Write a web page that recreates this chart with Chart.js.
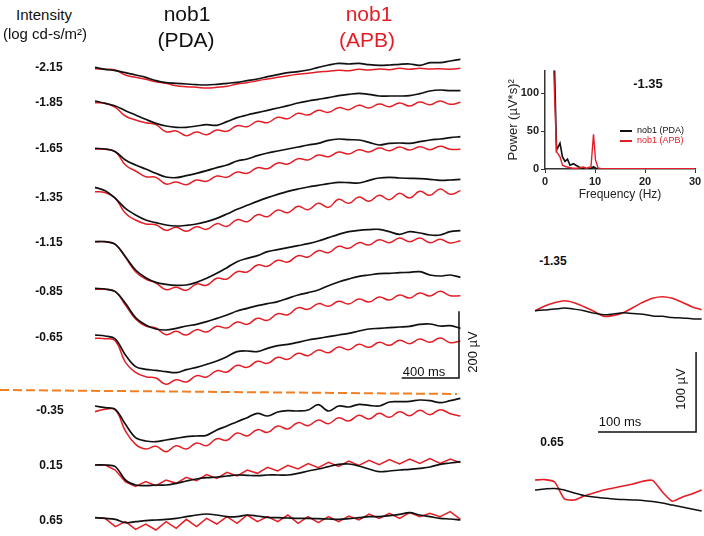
<!DOCTYPE html>
<html>
<head>
<meta charset="utf-8">
<script src="https://cdn.jsdelivr.net/npm/chart.js@4.4.0/dist/chart.umd.min.js"></script>
<style>
  html, body { margin: 0; padding: 0; background: #fff; }
  #page { position: relative; width: 704px; height: 536px; overflow: hidden; font-family: "Liberation Sans", Arial, sans-serif; color: #111; }
  .box { position: absolute; }
  .txt { position: absolute; transform: translate(-50%, -50%); white-space: nowrap; line-height: 1; }
  .lvl { font-weight: bold; font-size: 12px; }
  .head { font-size: 15px; }
  .group { font-size: 21px; }
  .red { color: #e41e26; }
  .bar { font-size: 13px; }
  .rot { transform: translate(-50%, -50%) rotate(-90deg); }
  .leg { position: absolute; font-size: 9px; white-space: nowrap; line-height: 1; }
  .leg span { display: inline-block; width: 12px; height: 2px; vertical-align: middle; margin-right: 5px; }
</style>
</head>
<body>
<div id="page">
  <div class="box" id="mainBox" style="left:0;top:40px;width:480px;height:496px;"><canvas id="traces"></canvas></div>
  <div class="box" id="fftBox" style="left:490px;top:62px;width:214px;height:140px;"><canvas id="fft"></canvas></div>
  <div class="box" id="zoomBox" style="left:530px;top:280px;width:174px;height:256px;"><canvas id="zoomTraces"></canvas></div>

  <div class="txt head" style="left:44px;top:14px;">Intensity</div>
  <div class="txt head" style="left:45px;top:33px;">(log cd-s/m²)</div>
  <div class="txt group" style="left:187px;top:13px;">nob1</div>
  <div class="txt group" style="left:186px;top:39px;">(PDA)</div>
  <div class="txt group red" style="left:369px;top:13px;">nob1</div>
  <div class="txt group red" style="left:367px;top:39px;">(APB)</div>

  <div class="txt lvl" style="left:49px;top:67px;">-2.15</div>
  <div class="txt lvl" style="left:49px;top:102px;">-1.85</div>
  <div class="txt lvl" style="left:49px;top:148px;">-1.65</div>
  <div class="txt lvl" style="left:49px;top:197px;">-1.35</div>
  <div class="txt lvl" style="left:49px;top:242px;">-1.15</div>
  <div class="txt lvl" style="left:49px;top:291px;">-0.85</div>
  <div class="txt lvl" style="left:49px;top:337px;">-0.65</div>
  <div class="txt lvl" style="left:50px;top:410px;">-0.35</div>
  <div class="txt lvl" style="left:51px;top:465px;">0.15</div>
  <div class="txt lvl" style="left:51px;top:520px;">0.65</div>

  <div class="txt bar" style="left:424px;top:371px;">400 ms</div>
  <div class="txt bar rot" style="left:472px;top:352px;">200 µV</div>

  <div class="txt lvl" style="left:648px;top:83px;font-size:13px;">-1.35</div>
  <div class="leg" style="left:620px;top:126px;"><span style="background:#111;"></span>nob1 (PDA)</div>
  <div class="leg red" style="left:620px;top:136px;"><span style="background:#e41e26;"></span>nob1 (APB)</div>

  <div class="txt lvl" style="left:553px;top:261px;">-1.35</div>
  <div class="txt lvl" style="left:552px;top:442px;">0.65</div>
  <div class="txt bar rot" style="left:680px;top:389px;">100 µV</div>
  <div class="txt bar" style="left:620px;top:421px;">100 ms</div>
</div>

<script>
// time base of the long traces (ms)
const times = [0,70,140,210,280,350,420,490,560,630,700,770,840,910,980,1050,1120,1190,1260,1330,1400,1470,1540,1610,1680,1750,1820,1890,1960,2030,2100,2170,2240,2310,2380,2450,2520];

// intensities (log cd-s/m2)
const intensities = ['-2.15','-1.85','-1.65','-1.35','-1.15','-0.85','-0.65','-0.35','0.15','0.65'];

// responses in µV, relative to the PDA trace start of each row
const pda_m215 = [0,-6,-10,-16,-23,-30,-40,-46,-48,-50,-52,-53,-51,-48,-45,-40,-35,-28,-22,-16,-13,-8,0,7,12,10,12,8,6,7,9,10,6,14,14,19,24];
const apb_m215 = [-4,-6,-8,-23,-30,-36,-43,-48,-55,-58,-60,-62,-60,-57,-50,-46,-40,-35,-30,-25,-21,-18,-14,-12,-9,-10,-6,-8,-5,-7,-3,-6,-3,-5,-4,-6,-3];

const pda_m185 = [0,-7,-15,-29,-42,-55,-67,-75,-79,-79,-75,-71,-73,-62,-50,-42,-35,-28,-21,-14,-6,0,5,10,16,20,23,20,15,15,15,16,22,30,33,31,31];
const apb_m185 = [-5,-7,-19,-45,-57,-65,-71,-92,-90,-104,-93,-101,-87,-91,-74,-77,-61,-65,-49,-53,-37,-42,-28,-34,-20,-26,-13,-21,-9,-17,-6,-15,-3,-11,0,-10,-4];

const pda_m165 = [0,-2,-10,-35,-50,-62,-75,-86,-88,-82,-75,-67,-58,-50,-38,-32,-22,-14,-8,-2,4,10,15,24,28,26,25,18,10,15,16,15,20,25,28,32,35];
const apb_m165 = [-2,-3,-10,-50,-68,-85,-87,-107,-101,-109,-95,-99,-83,-87,-71,-75,-58,-61,-44,-47,-31,-35,-20,-25,-11,-17,-4,-11,1,-7,4,-5,5,-4,6,-3,-3];

const pda_m135 = [0,-10,-33,-63,-83,-98,-106,-113,-116,-114,-110,-103,-93,-80,-66,-54,-42,-31,-21,-12,-5,1,6,11,15,14,13,21,28,30,28,27,26,24,21,22,24];
const apb_m135 = [-13,-16,-33,-78,-98,-110,-112,-129,-120,-132,-118,-126,-109,-117,-97,-103,-82,-88,-68,-76,-57,-67,-48,-60,-36,-48,-29,-42,-24,-37,-18,-32,-12,-24,-5,-21,-10];

const pda_m115 = [0,0,-8,-45,-85,-108,-122,-128,-131,-130,-122,-110,-95,-78,-60,-50,-42,-30,-24,-18,-12,-6,2,12,22,30,34,36,37,30,22,30,26,20,20,30,33];
const apb_m115 = [0,0,-8,-47,-90,-112,-124,-144,-137,-146,-127,-131,-110,-112,-90,-91,-70,-74,-56,-61,-42,-46,-27,-33,-14,-20,-3,-10,6,-3,11,0,11,-3,7,-4,3];

const pda_m085 = [0,-2,-10,-45,-88,-110,-122,-125,-120,-113,-108,-100,-90,-80,-68,-60,-52,-46,-40,-30,-20,-13,-5,8,19,28,36,40,44,45,47,48,50,40,37,40,33];
const apb_m085 = [-3,-3,-10,-50,-92,-113,-119,-139,-129,-140,-124,-131,-114,-119,-101,-108,-90,-96,-76,-79,-58,-63,-46,-54,-39,-47,-32,-41,-26,-35,-20,-29,-14,-23,-9,-22,-22];

const pda_m065 = [0,-3,-12,-60,-95,-103,-106,-110,-113,-104,-97,-88,-78,-65,-50,-48,-50,-40,-32,-28,-22,-15,-10,-5,0,5,12,18,20,22,24,26,32,33,27,28,20];
const apb_m065 = [-10,-11,-17,-82,-112,-125,-129,-148,-134,-141,-122,-126,-107,-111,-91,-97,-79,-85,-67,-73,-55,-62,-45,-53,-36,-44,-28,-37,-22,-31,-16,-26,-12,-22,-9,-23,-18];

const pda_m035 = [0,-5,-10,-55,-95,-105,-107,-102,-97,-92,-90,-88,-72,-60,-47,-35,-22,-30,-18,-14,-15,-12,4,-15,0,-3,5,2,0,12,13,14,18,16,10,16,23];
const apb_m035 = [-17,-10,-12,-75,-115,-129,-121,-137,-119,-129,-111,-119,-98,-103,-81,-90,-71,-79,-60,-69,-50,-59,-42,-53,-35,-45,-28,-39,-22,-34,-17,-29,-13,-26,-11,-23,-30];

const pda_015 = [0,0,-5,-45,-60,-62,-60,-60,-55,-48,-42,-38,-36,-33,-30,-31,-32,-30,-30,-30,-25,-18,-12,-5,2,3,-3,-12,-20,-18,-15,-13,-10,-6,2,6,10];
const apb_015 = [0,0,-15,-51,-64,-50,-62,-45,-55,-37,-47,-29,-40,-22,-33,-15,-25,-7,-18,-1,-12,4,-8,8,-4,12,-1,14,1,16,3,18,5,19,5,18,7];

const pda_065 = [0,-2,-5,-15,-12,-9,-7,-5,-2,3,8,11,8,3,3,8,5,1,0,-1,-2,-2,-3,-4,-5,-3,0,3,3,6,10,15,8,3,-2,-4,-7];
const apb_065 = [0,-2,-27,-12,-35,-19,-37,-12,-32,-5,-27,-2,-19,3,-17,8,-12,3,-12,8,-17,3,-15,3,-12,5,-7,11,-2,13,-2,15,3,13,3,18,-5];

// power spectra at -1.35
const fftFreqPda = [1.9,2.3,3.0,3.5,4.0,4.5,5.0,5.7,6.2,6.7,7.7,9.0,9.7,10.4,12,20,30];
const fftPowerPda = [135,25,34,16,10,13,5,7,5,3,0,0,3,0,0,0,0];
const fftFreqApb = [1.7,2.3,3.0,3.5,4.2,5.5,6.5,7.7,8.3,9.2,9.7,10.1,10.6,11.2,20,30];
const fftPowerApb = [140,23,16,5,3,1,1,2.6,1,3,46,12,1.3,0.5,0.5,0.5];

// expanded traces (ms, µV)
const zoomTimes = [0,10,20,30,40,50,60,70,80,90,100,110,120,130,140,150,160,170];
const zoomPda_m135 = [0,1,2,3.4,2,0,-3,-5,-4,-2.5,-3.5,-4.5,-6.5,-7,-8.5,-9,-10,-10.5];
const zoomApb_m135 = [0,6,10,12.5,10,5,-0.6,-7,-6,-2.5,4,10.5,15.6,17.5,15.6,10.6,5,1.2];
const zoomPda_065 = [0,1.3,1.9,0,-3.75,-6.9,-8.75,-10,-11.3,-11.9,-12.5,-13,-14.4,-16.3,-18.8,-21.3,-23.8,-26.3];
const zoomApb_065 = [12.5,13,10,-11,-12.5,-7.5,-3.75,0,2.5,5,7.5,11,12,-2.5,-14,-9,-5,0];

// layout: vertical baseline of each row (µV on the stacked axis)
const rowBaselines = [-82,-183,-325,-442,-605,-745,-885,-1098,-1275,-1433];
const sawRows = ['0.15','0.65'];

const BLACK = '#111111';
const RED = '#e41e26';
const ORANGE = '#f08023';
const FONT = '"Liberation Sans", Arial, sans-serif';

const pdaRows = [pda_m215,pda_m185,pda_m165,pda_m135,pda_m115,pda_m085,pda_m065,pda_m035,pda_015,pda_065];
const apbRows = [apb_m215,apb_m185,apb_m165,apb_m135,apb_m115,apb_m085,apb_m065,apb_m035,apb_015,apb_065];

function shifted(xs, ys, base) {
  return ys.map((v, i) => ({ x: xs[i], y: v + base }));
}

function line(data, color, width, extra) {
  return Object.assign({
    data: data,
    borderColor: color,
    borderWidth: width,
    pointRadius: 0,
    fill: false,
    tension: 0.35
  }, extra || {});
}

const mainSets = [];
// black on top of red
intensities.forEach((lvl, r) => {
  mainSets.push(line(shifted(times, pdaRows[r], rowBaselines[r]), BLACK, 1.7, { order: 1 }));
});
intensities.forEach((lvl, r) => {
  const saw = sawRows.includes(lvl);
  mainSets.push(line(shifted(times, apbRows[r], rowBaselines[r]), RED, 1.5, { order: 2, tension: saw ? 0 : 0.45 }));
});
// dashed separator
mainSets.push(line([{ x: -655, y: -1050 }, { x: 2497, y: -1062 }], ORANGE, 2, { borderDash: [9, 4], tension: 0, order: 3 }));
// scale bar 400 ms / 200 µV
mainSets.push(line([{ x: 2115, y: -1014 }, { x: 2510, y: -1014 }, { x: 2510, y: -814 }], BLACK, 1.5, { tension: 0, order: 0 }));

new Chart(document.getElementById('traces'), {
  type: 'line',
  data: { datasets: mainSets },
  options: {
    responsive: true,
    maintainAspectRatio: false,
    animation: false,
    layout: { padding: 0 },
    plugins: { legend: { display: false }, tooltip: { enabled: false } },
    scales: {
      x: { type: 'linear', min: -655, max: 2655, display: false },
      y: { type: 'linear', min: -1488, max: 0, display: false }
    }
  }
});

// power spectrum inset
const tickFont = { family: FONT, size: 11, weight: 'bold' };
new Chart(document.getElementById('fft'), {
  type: 'line',
  data: {
    datasets: [
      line(fftFreqApb.map((f, i) => ({ x: f, y: fftPowerApb[i] })), RED, 1.4, { tension: 0 }),
      line(fftFreqPda.map((f, i) => ({ x: f, y: fftPowerPda[i] })), BLACK, 1.6, { tension: 0 })
    ]
  },
  options: {
    responsive: true,
    maintainAspectRatio: false,
    animation: false,
    layout: { padding: { top: 8, right: 9, left: 0, bottom: 0 } },
    plugins: { legend: { display: false }, tooltip: { enabled: false } },
    scales: {
      x: {
        type: 'linear', min: 0, max: 30,
        ticks: { stepSize: 10, font: tickFont, color: '#222', padding: 2, maxRotation: 0 },
        grid: { display: true, drawOnChartArea: false, drawTicks: true, tickLength: 4, color: '#333' },
        border: { display: true, color: '#333', width: 1.5 },
        title: { display: true, text: 'Frequency (Hz)', font: { family: FONT, size: 12 }, color: '#222', padding: { top: 0, bottom: 0 } },
        afterFit: s => { s.height = 33; }
      },
      y: {
        type: 'linear', min: 0, max: 130,
        afterBuildTicks: s => { s.ticks = s.ticks.filter(t => t.value % 50 === 0); },
        ticks: { stepSize: 50, font: tickFont, color: '#222', padding: 2 },
        grid: { display: true, drawOnChartArea: false, drawTicks: true, tickLength: 4, color: '#333' },
        border: { display: true, color: '#333', width: 1.5 },
        title: { display: true, text: 'Power (µV*s)²', font: { family: FONT, size: 13 }, color: '#222', padding: { top: 16, bottom: 0 } },
        afterFit: s => { s.width = 55; }
      }
    }
  }
});

// expanded traces on the right
const zoomBaseA = -38.4;
const zoomBaseB = -262.5;
new Chart(document.getElementById('zoomTraces'), {
  type: 'line',
  data: {
    datasets: [
      line(shifted(zoomTimes, zoomPda_m135, zoomBaseA), BLACK, 1.5, { tension: 0.3 }),
      line(shifted(zoomTimes, zoomApb_m135, zoomBaseA), RED, 1.6, { tension: 0.3 }),
      line(shifted(zoomTimes, zoomPda_065, zoomBaseB), BLACK, 1.5, { tension: 0.3 }),
      line(shifted(zoomTimes, zoomApb_065, zoomBaseB), RED, 1.6, { tension: 0.2 }),
      // scale bar 100 ms / 100 µV
      line([{ x: 64.3, y: -190 }, { x: 164.3, y: -190 }, { x: 164.3, y: -90 }], BLACK, 1.5, { tension: 0 })
    ]
  },
  options: {
    responsive: true,
    maintainAspectRatio: false,
    animation: false,
    layout: { padding: 0 },
    plugins: { legend: { display: false }, tooltip: { enabled: false } },
    scales: {
      x: { type: 'linear', min: -5.1, max: 172.4, display: false },
      y: { type: 'linear', min: -320, max: 0, display: false }
    }
  }
});
</script>
</body>
</html>
